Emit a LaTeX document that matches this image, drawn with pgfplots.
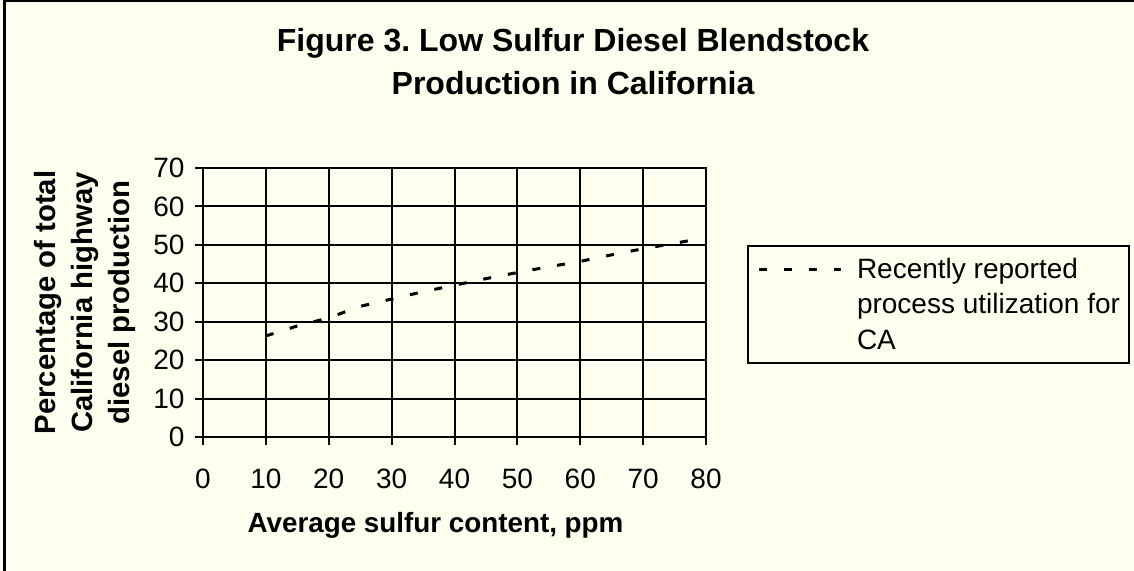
\documentclass[border=0pt]{standalone}
\usepackage{fontspec}
\setmainfont{Liberation Sans}
\usepackage{pgfplots}
\pgfplotsset{compat=1.18}
\definecolor{bg}{HTML}{FFFFF0}
\frenchspacing
\begin{document}
\begin{tikzpicture}[x=1bp,y=1bp]
\useasboundingbox (0,0) rectangle (1134,571);
\fill[bg] (0,0) rectangle (1134,571);
\begin{axis}[
  at={(203bp,134bp)}, anchor=south west,
  scale only axis, width=503bp, height=269bp,
  xmin=0, xmax=80, ymin=0, ymax=70,
  xtick={0,10,...,80}, ytick={0,10,...,70},
  grid=major, major grid style={black, line width=2bp},
  axis line style={black, line width=2bp},
  every tick/.style={black, line width=2bp},
  tick align=outside, major tick length=8bp, tick pos=left,
  /pgf/number format/assume math mode=true,
  ticklabel style={font=\fontsize{28bp}{33bp}\selectfont},
  xticklabel style={yshift=-20bp},
  yticklabel style={xshift=-7bp},
  xlabel={Average sulfur content, ppm},
  xlabel style={at={(axis description cs:0.4622,-0.3569)}, anchor=base,
    font=\fontsize{27.8bp}{32bp}\selectfont\bfseries},
  ylabel={Percentage of total\\California highway\\diesel production},
  ylabel style={at={(axis description cs:-0.336,0.5)}, anchor=north, inner sep=0pt,
    align=center, font=\fontsize{29.3bp}{37bp}\selectfont\bfseries},
  legend style={at={(axis description cs:1.0815,0.7138)}, anchor=north west,
    draw=black, line width=2bp, fill=none,
    font=\fontsize{28bp}{35.5bp}\selectfont,
    inner xsep=9bp, inner ysep=12bp, column sep=15bp,
    nodes={inner sep=0bp},
    cells={align=left, anchor=base west}},
  legend image code/.code={\draw[#1] (0bp,80bp) -- (82bp,80bp);},
]
\addplot[black, line width=3bp, dash pattern=on 8bp off 17bp] coordinates {
(10,26.3) (15,28.9) (20,31.0) (22,32.2) (25,34.0) (30,35.9) (35,37.8) (40,39.5)
(45,41.2) (50,42.8) (55,44.3) (60,45.7) (65,47.4) (70,49.0) (75,50.4) (79,51.6)
};
\addlegendentry{Recently reported\\process utilization for\\CA}
\end{axis}
\node[anchor=base, font=\fontsize{32bp}{38bp}\selectfont\bfseries] at (573,519) {Figure 3. Low Sulfur Diesel Blendstock};
\node[anchor=base, font=\fontsize{32bp}{38bp}\selectfont\bfseries] at (573,476) {Production in California};
\fill[black] (3.3,0) rectangle (6.1,571);
\fill[black] (3.3,568.6) rectangle (1134,571);
\end{tikzpicture}
\end{document}
